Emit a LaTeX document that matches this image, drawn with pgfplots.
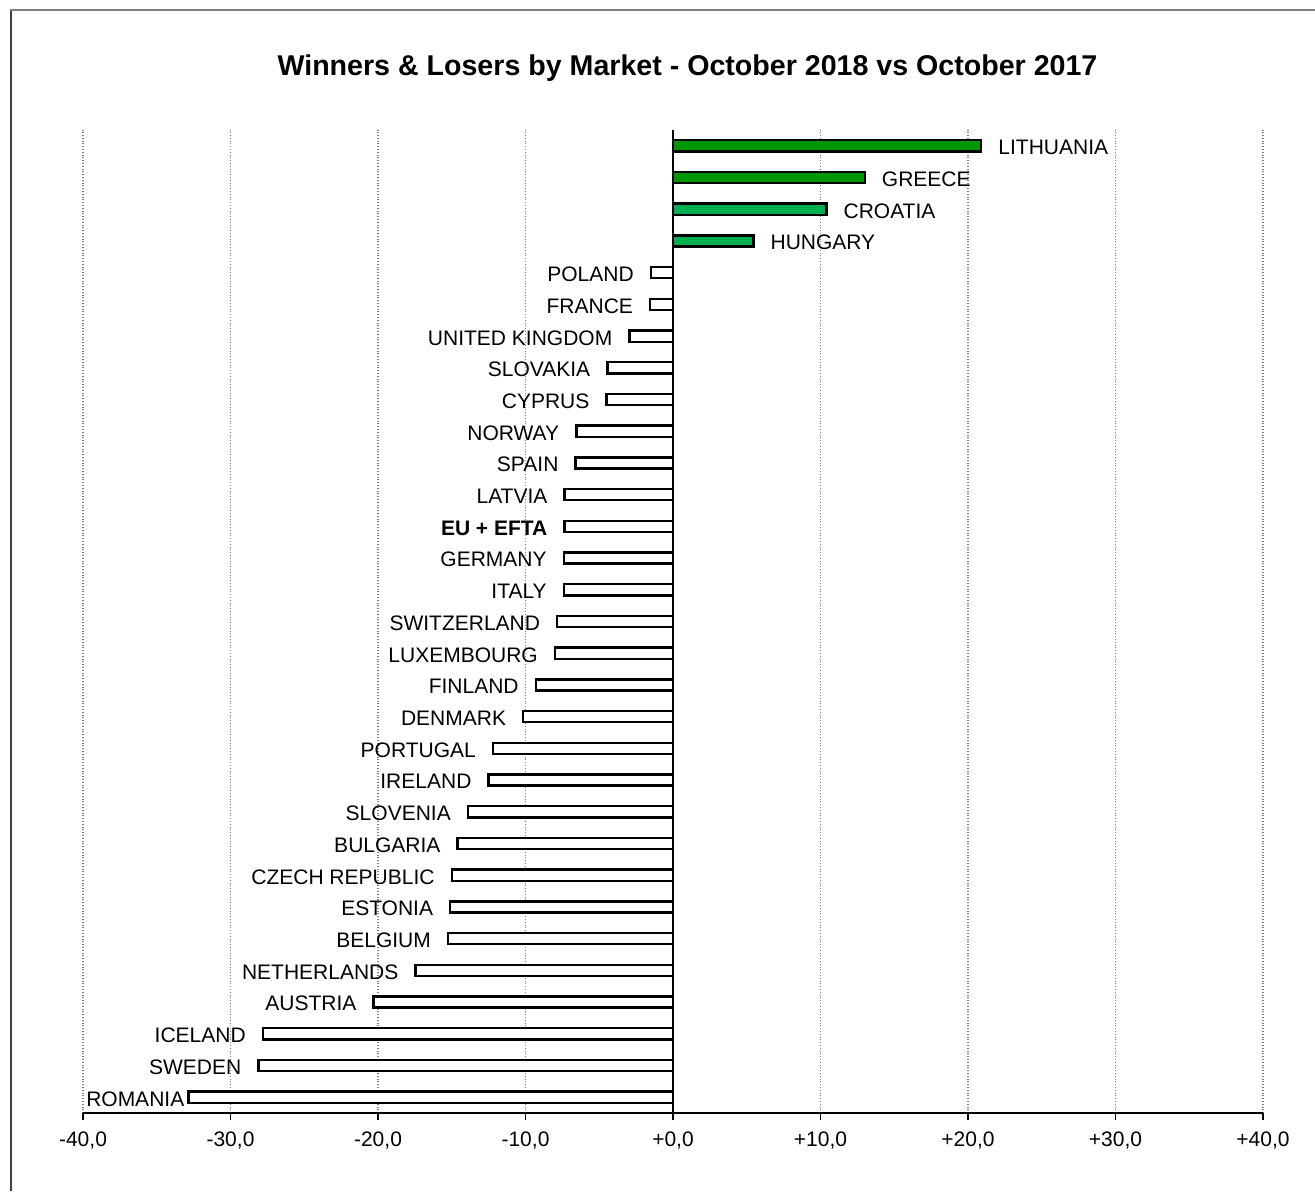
\documentclass[border=0pt]{standalone}
\usepackage{pgfplots}
\pgfplotsset{compat=1.18}
\usepackage{fontspec}
\setmainfont{Liberation Sans}
\definecolor{dkgreen}{HTML}{009600}
\definecolor{ltgreen}{HTML}{00B050}
\begin{document}
\begin{tikzpicture}
\path[use as bounding box] (0,0) rectangle (657.5pt,595.5pt);
\draw[black!75, line width=1pt] (5.5pt,0) -- (5.5pt,590.5pt);
\draw[black!50, line width=1pt] (5pt,590.5pt) -- (657.5pt,590.5pt);
\node[font=\fontsize{14.3pt}{16pt}\selectfont\bfseries] at (343.75pt,561.5pt) {Winners \& Losers by Market - October 2018 vs October 2017};
\begin{axis}[
  at={(41.5pt,39pt)}, anchor=south west,
  scale only axis, width=590pt, height=491.5pt,
  xmin=-40, xmax=40, ymin=-0.5, ymax=30.5,
  axis x line=bottom, axis y line=none,
  axis line style={-, black, line width=0.8pt},
  xtick={-40,-30,-20,-10,0,10,20,30,40},
  xticklabels={{-40,0},{-30,0},{-20,0},{-10,0},{+0,0},{+10,0},{+20,0},{+30,0},{+40,0}},
  xticklabel style={font=\fontsize{10.5pt}{12pt}\selectfont, text height=7.5pt, text depth=0pt, yshift=-2pt},
  tick align=outside, major tick length=3.5pt,
  tick style={black, line width=0.8pt},
  xmajorgrids, grid style={gray, densely dotted, line width=0.6pt},
  ytick=\empty,
  clip=false,
  point meta=explicit symbolic,
  nodes near coords,
  every node near coord/.append style={font=\fontsize{10.5pt}{12pt}\selectfont, text height=7.5pt, text depth=0pt, inner sep=0pt, black, yshift=-0.7pt},
]
\draw[black, line width=0.8pt] (axis cs:0,-0.5) -- (axis cs:0,30.5);
\addplot[xbar, bar width=5.6pt, bar shift=0pt, draw=black, line width=1.2pt, fill=dkgreen,
  nodes near coords style={anchor=west, xshift=8pt}] coordinates {
  (20.9,30) [LITHUANIA]
  (13.0,29) [GREECE]
};
\addplot[xbar, bar width=5.6pt, bar shift=0pt, draw=black, line width=1.2pt, fill=ltgreen,
  nodes near coords style={anchor=west, xshift=8pt}] coordinates {
  (10.4,28) [CROATIA]
  (5.45,27) [HUNGARY]
};
\addplot[xbar, bar width=5.6pt, bar shift=0pt, draw=black, line width=1.2pt, fill=white,
  nodes near coords style={anchor=east, xshift=-8pt}] coordinates {
  (-1.5,26) [POLAND]
  (-1.55,25) [FRANCE]
  (-2.95,24) [UNITED KINGDOM]
  (-4.45,23) [SLOVAKIA]
  (-4.5,22) [CYPRUS]
  (-6.55,21) [NORWAY]
  (-6.6,20) [SPAIN]
  (-7.35,19) [LATVIA]
  (-7.35,18) [\textbf{EU + EFTA}]
  (-7.4,17) [GERMANY]
  (-7.4,16) [ITALY]
  (-7.85,15) [SWITZERLAND]
  (-8.0,14) [LUXEMBOURG]
  (-9.3,13) [FINLAND]
  (-10.15,12) [DENMARK]
  (-12.2,11) [PORTUGAL]
  (-12.5,10) [IRELAND]
  (-13.9,9) [SLOVENIA]
  (-14.6,8) [BULGARIA]
  (-15.0,7) [CZECH REPUBLIC]
  (-15.1,6) [ESTONIA]
  (-15.25,5) [BELGIUM]
  (-17.45,4) [NETHERLANDS]
  (-20.3,3) [AUSTRIA]
  (-27.8,2) [ICELAND]
  (-28.1,1) [SWEDEN]
};
\addplot[xbar, bar width=5.6pt, bar shift=0pt, draw=black, line width=1.2pt, fill=white,
  nodes near coords style={anchor=east, xshift=-1.5pt}] coordinates {
  (-32.85,0) [ROMANIA]
};
\end{axis}
\end{tikzpicture}
\end{document}
